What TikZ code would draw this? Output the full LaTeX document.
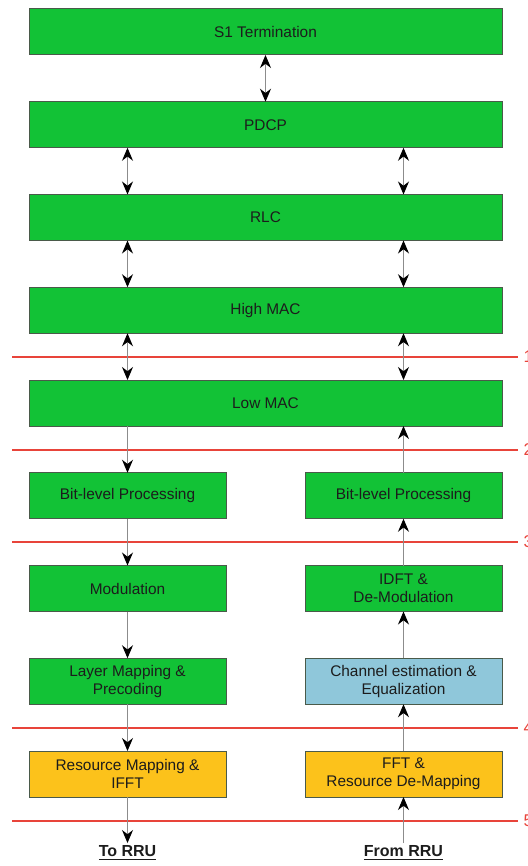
\documentclass[tikz,border=0pt]{standalone}
\usepackage{fontspec}
\setmainfont{Liberation Sans}
\usetikzlibrary{arrows.meta,positioning}
\definecolor{BoxGreen}{HTML}{12C236}
\definecolor{BoxOrange}{HTML}{FCC21B}
\definecolor{BoxBlue}{HTML}{8FC7DA}
\definecolor{EdgeGray}{HTML}{4A5A4A}
\definecolor{CutRed}{HTML}{E8443A}
\definecolor{TextGray}{HTML}{1C1C1C}

\begin{document}
\begin{tikzpicture}[x=0.5pt, y=-0.5pt, node distance=23.375pt, >={Stealth[length=6.5pt,width=5.5pt,color=black]}, every node/.style={font=\fontsize{7.7}{9.2}\selectfont, align=center, text=TextGray}, layer/.style={draw=EdgeGray, line width=0.5pt, fill=BoxGreen, minimum width=236.5pt, minimum height=23pt, inner sep=0pt, outer sep=0pt}, half/.style={layer, minimum width=98.5pt}, link/.style={draw=black!45, line width=0.5pt}, cutline/.style={draw=CutRed, line width=0.6pt}, cutnum/.style={right, inner sep=0pt, xshift=2.5pt, text=CutRed, font=\fontsize{8.5}{9}\selectfont}]
        \useasboundingbox (0,0) rectangle (528,866);
        % shared layers
        \node[layer] (s1) at (265.5,32) {S1 Termination};
        \node[layer, below=of s1] (pdcp) {PDCP};
        \node[layer, below=of pdcp] (rlc) {RLC};
        \node[layer, below=of rlc] (highmac) {High MAC};
        \node[layer, below=of highmac] (lowmac) {Low MAC};
        % downlink chain
        \node[half, below=of lowmac.south west, anchor=north west] (bitL) {Bit-level Processing};
        \node[half, below=of bitL] (modL) {Modulation};
        \node[half, below=of modL] (layL) {Layer Mapping \&\\Precoding};
        \node[half, fill=BoxOrange, below=of layL] (resL) {Resource Mapping \&\\IFFT};
        \node[below=23pt of resL, inner sep=1pt, font=\fontsize{8}{9.2}\selectfont] (toRRU) {\underline{\textbf{To RRU}}};
        % uplink chain
        \node[half, right=39.5pt of bitL] (bitR) {Bit-level Processing};
        \node[half, below=of bitR] (demodR) {IDFT \&\\De-Modulation};
        \node[half, fill=BoxBlue, below=of demodR] (chanR) {Channel estimation \&\\Equalization};
        \node[half, fill=BoxOrange, below=of chanR] (fftR) {FFT \&\\Resource De-Mapping};
        \node[below=23pt of fftR, inner sep=1pt, font=\fontsize{8}{9.2}\selectfont] (fromRRU) {\underline{\textbf{From RRU}}};
        % split options
        \draw[cutline] (12,357) -- (518,357) node[cutnum] {1};
        \draw[cutline] (12,450) -- (518,450) node[cutnum] {2};
        \draw[cutline] (12,542) -- (518,542) node[cutnum] {3};
        \draw[cutline] (12,728) -- (518,728) node[cutnum] {4};
        \draw[cutline] (12,821) -- (518,821) node[cutnum] {5};
        \draw[link, <->] (s1) -- (pdcp);
        \draw[link, <->] (pdcp.south -| bitL) -- (rlc.north -| bitL);
        \draw[link, <->] (pdcp.south -| bitR) -- (rlc.north -| bitR);
        \draw[link, <->] (rlc.south -| bitL) -- (highmac.north -| bitL);
        \draw[link, <->] (rlc.south -| bitR) -- (highmac.north -| bitR);
        \draw[link, <->] (highmac.south -| bitL) -- (lowmac.north -| bitL);
        \draw[link, <->] (highmac.south -| bitR) -- (lowmac.north -| bitR);
        \draw[link, ->] (lowmac.south -| bitL) -- (bitL);
        \draw[link, ->] (bitL) -- (modL);
        \draw[link, ->] (modL) -- (layL);
        \draw[link, ->] (layL) -- (resL);
        \draw[link, ->] (resL) -- (toRRU);
        \draw[link, ->] (bitR) -- (lowmac.south -| bitR);
        \draw[link, ->] (demodR) -- (bitR);
        \draw[link, ->] (chanR) -- (demodR);
        \draw[link, ->] (fftR) -- (chanR);
        \draw[link, ->] (fromRRU) -- (fftR);
    \end{tikzpicture}
\end{document}
